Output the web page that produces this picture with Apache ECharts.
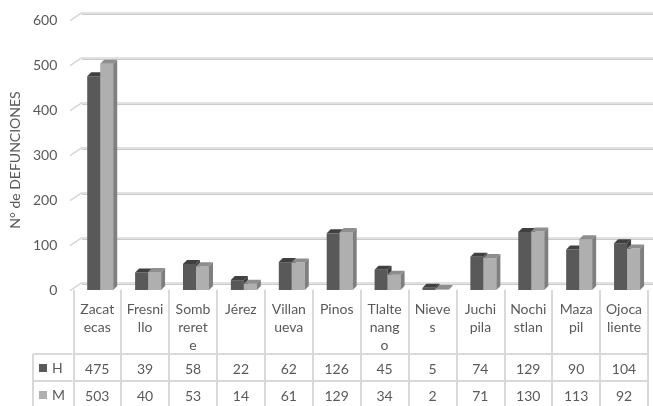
<!DOCTYPE html>
<html><head><meta charset="utf-8">
<script src="https://cdn.jsdelivr.net/npm/echarts@6/dist/echarts.min.js"></script>
<style>html,body{margin:0;padding:0;background:#fff}#c{width:653px;height:406px}</style>
</head><body><div id="c"></div>
<script>
const categories = ["Zacat\necas","Fresni\nllo","Somb\nreret\ne","Jérez","Villan\nueva","Pinos","Tlalte\nnang\no","Nieve\ns","Juchi\npila","Nochi\nstlan","Maza\npil","Ojoca\nliente"];
const seriesNames = ["H","M"];
const hValues = [475,39,58,22,62,126,45,5,74,129,90,104];
const mValues = [503,40,53,14,61,129,34,2,71,130,113,92];
const yTicks = [0,100,200,300,400,500,600];

const FONT = 'Lato';
const TXT = '#595959';
const LINE = '#d9d9d9';
const faces = {
  H: {front:'#595959', top:'#404040', side:'#3c3c3c', off:-10},
  M: {front:'#afafaf', top:'#8e8e8e', side:'#7f7f7f', off:3}
};
const BW = 13, DX = 4, DY = -4;

function bar3d(name){
  const f = faces[name];
  return function(params, api){
    const i = api.value(0), v = api.value(1);
    const b = api.coord([i, 0]);
    const t = api.coord([i, v]);
    const x0 = b[0] + f.off, x1 = x0 + BW;
    const yt = t[1], yb = b[1];
    return {type:'group', children:[
      {type:'rect', shape:{x:x0, y:yt, width:BW, height:yb-yt}, style:{fill:f.front}},
      {type:'polygon', shape:{points:[[x0,yt],[x1,yt],[x1+DX,yt+DY],[x0+DX,yt+DY]]}, style:{fill:f.top}},
      {type:'polygon', shape:{points:[[x1,yt],[x1+DX,yt+DY],[x1+DX,yb+DY],[x1,yb]]}, style:{fill:f.side}}
    ]};
  };
}

const chart = echarts.init(document.getElementById('c'), null, {renderer:'canvas'});
chart.setOption({
  animation:false,
  backgroundColor:'#fff',
  grid:[
    {left:72, right:5, top:20, bottom:116},
    {left:82, right:0, top:12.7, bottom:123.3}
  ],
  legend:{
    orient:'vertical', left:39, top:361, padding:0, itemGap:13, itemWidth:8, itemHeight:8,
    icon:'rect', textStyle:{fontFamily:FONT, fontSize:14, color:TXT},
    data:seriesNames
  },
  xAxis:[
    {type:'category', gridIndex:0, data:categories, position:'bottom',
     axisLine:{show:false},
     axisTick:{show:true, length:64, interval:0, lineStyle:{color:LINE, width:2}},
     axisLabel:{interval:0, margin:10, fontFamily:FONT, fontSize:14, color:TXT, lineHeight:18}},
    {type:'category', gridIndex:0, data:categories, position:'bottom', offset:64,
     axisLine:{show:true, lineStyle:{color:LINE, width:2}},
     axisTick:{show:true, length:27, interval:0, lineStyle:{color:LINE, width:2}},
     axisLabel:{interval:0, margin:8, fontFamily:FONT, fontSize:14, color:TXT, formatter:(v,i)=>String(hValues[i])}},
    {type:'category', gridIndex:0, data:categories, position:'bottom', offset:91,
     axisLine:{show:true, lineStyle:{color:LINE, width:2}},
     axisTick:{show:true, length:25, interval:0, lineStyle:{color:LINE, width:2}},
     axisLabel:{interval:0, margin:8, fontFamily:FONT, fontSize:14, color:TXT, formatter:(v,i)=>String(mValues[i])}},
    {type:'value', gridIndex:1, min:0, max:1, show:false}
  ],
  yAxis:[
    {type:'value', gridIndex:0, min:0, max:600, interval:100,
     name:'N° de DEFUNCIONES', nameLocation:'middle', nameGap:49,
     nameTextStyle:{fontFamily:FONT, fontSize:14, color:TXT, padding:[0,10,0,0]},
     axisLine:{show:false}, axisTick:{show:false}, splitLine:{show:false},
     axisLabel:{margin:16, fontFamily:FONT, fontSize:14, color:TXT}},
    {type:'value', gridIndex:1, min:0, max:600, interval:100,
     axisLine:{show:false}, axisTick:{show:false}, axisLabel:{show:false},
     splitLine:{show:true, lineStyle:{color:'#e2e2e2', width:2, shadowColor:'#cacaca', shadowOffsetY:1, shadowBlur:0}}}
  ],
  graphic:[
    {type:'line', shape:{x1:33, y1:354, x2:72, y2:354}, style:{stroke:LINE, lineWidth:2}},
    {type:'line', shape:{x1:33, y1:381, x2:72, y2:381}, style:{stroke:LINE, lineWidth:2}},
    {type:'line', shape:{x1:33, y1:354, x2:33, y2:406}, style:{stroke:LINE, lineWidth:2}}
  ],
  series:[
    {type:'custom', name:'wall', xAxisIndex:3, yAxisIndex:1, silent:true,
     data:yTicks.map(v=>[0,v]),
     renderItem:function(params, api){
       const p = api.coord([0, api.value(1)]);
       return {type:'line', shape:{x1:p[0]-12, y1:p[1]+8, x2:p[0], y2:p[1]}, style:{stroke:'#d6d6d6', lineWidth:1.5}};
     }},
    {type:'custom', name:'H', xAxisIndex:0, yAxisIndex:0, itemStyle:{color:faces.H.front},
     data:hValues.map((v,i)=>[i,v]), encode:{x:0,y:1}, renderItem:bar3d('H')},
    {type:'custom', name:'M', xAxisIndex:0, yAxisIndex:0, itemStyle:{color:faces.M.front},
     data:mValues.map((v,i)=>[i,v]), encode:{x:0,y:1}, renderItem:bar3d('M')}
  ]
});
</script></body></html>
